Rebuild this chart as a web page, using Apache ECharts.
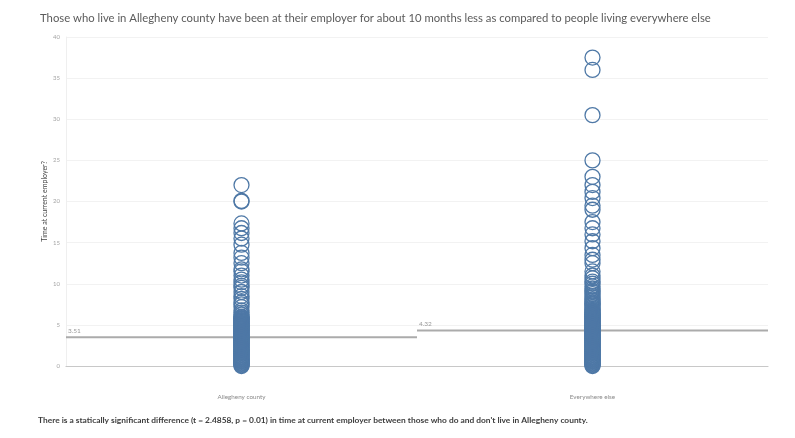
<!DOCTYPE html>
<html>
<head>
<meta charset="utf-8">
<script src="https://cdn.jsdelivr.net/npm/echarts@6/dist/echarts.min.js"></script>
<style>
  html, body { margin: 0; padding: 0; background: #fff; }
  #chart { width: 795px; height: 438px; }
</style>
</head>
<body>
<div id="chart"></div>
<script>
  // categories on the x axis
  var groups = ['Allegheny county', 'Everywhere else'];

  // years at current employer (monthly steps near the bottom)
  var alleghenyValues = [
    22, 20, 20.08, 17.33, 16.75, 16.17, 15.5, 14.75, 13.75, 13.17, 12.5, 11.75,
    11.5, 11, 10.5, 10.17, 9.75, 9.5, 9, 8.5, 8.17, 7.75, 7.5, 7.17, 6.75, 6.5,
    6.25, 6, 5.92, 5.83, 5.75, 5.67, 5.58, 5.5, 5.42, 5.33, 5.25, 5.17, 5.08, 5,
    4.92, 4.83, 4.75, 4.67, 4.58, 4.5, 4.42, 4.33, 4.25, 4.17, 4.08, 4,
    3.92, 3.83, 3.75, 3.67, 3.58, 3.5, 3.42, 3.33, 3.25, 3.17, 3.08, 3,
    2.92, 2.83, 2.75, 2.67, 2.58, 2.5, 2.42, 2.33, 2.25, 2.17, 2.08, 2,
    1.92, 1.83, 1.75, 1.67, 1.58, 1.5, 1.42, 1.33, 1.25, 1.17, 1.08, 1,
    0.92, 0.83, 0.75, 0.67, 0.58, 0.5, 0.42, 0.33, 0.25, 0.17, 0.08, 0
  ];
  var elsewhereValues = [
    37.5, 36, 30.5, 25, 23, 22, 21.17, 20.42, 19.5, 19, 17.5, 16.75, 16, 15.17,
    14.33, 13.5, 12.92, 12.5, 11.5, 11, 10.67, 10.25, 10, 9.67, 9.42, 9.17, 9,
    8.75, 8.5, 8.33, 8.08, 7.92, 7.75, 7.58, 7.5, 7.33, 7.17, 7, 6.83, 6.75,
    6.58, 6.5, 6.42, 6.33, 6.25, 6.17, 6.08, 6, 5.92, 5.83, 5.75, 5.67, 5.58,
    5.5, 5.42, 5.33, 5.25, 5.17, 5.08, 5, 4.92, 4.83, 4.75, 4.67, 4.58, 4.5,
    4.42, 4.33, 4.25, 4.17, 4.08, 4, 3.92, 3.83, 3.75, 3.67, 3.58, 3.5, 3.42,
    3.33, 3.25, 3.17, 3.08, 3, 2.92, 2.83, 2.75, 2.67, 2.58, 2.5, 2.42, 2.33,
    2.25, 2.17, 2.08, 2, 1.92, 1.83, 1.75, 1.67, 1.58, 1.5, 1.42, 1.33, 1.25,
    1.17, 1.08, 1, 0.92, 0.83, 0.75, 0.67, 0.58, 0.5, 0.42, 0.33, 0.25, 0.17,
    0.08, 0
  ];
  var groupValues = [alleghenyValues, elsewhereValues];

  // group averages drawn as reference lines
  var groupMeans = [3.51, 4.32];

  var titleText = 'Those who live in Allegheny county have been at their employer for about 10 months less as compared to people living everywhere else';
  var noteText = "There is a statically significant difference (t = 2.4858, p = 0.01) in time at current employer between those who do and don't live in Allegheny county.";

  var chart = echarts.init(document.getElementById('chart'));

  var series = [];
  groups.forEach(function (g, i) {
    series.push({
      name: g,
      type: 'scatter',
      symbol: 'circle',
      symbolSize: 15,
      clip: false,
      itemStyle: {
        color: 'rgba(255,255,255,0)',
        borderColor: '#4e78a6',
        borderWidth: 1.3,
        opacity: 1
      },
      data: groupValues[i].map(function (v) { return [g, v]; })
    });
  });
  groupMeans.forEach(function (m, i) {
    series.push({
      name: 'mean ' + groups[i],
      type: 'line',
      xAxisIndex: 1,
      symbol: 'circle',
      symbolSize: 0,
      silent: true,
      lineStyle: { color: '#ababab', width: 2 },
      data: [
        { value: [i, m], label: { show: true, formatter: String(m), position: [2, -10], color: '#999', fontSize: 6.5, fontFamily: 'Lato' } },
        [i + 1, m]
      ],
      z: 1
    });
  });

  var option = {
    animation: false,
    textStyle: { fontFamily: 'Lato' },
    title: [{
      text: titleText,
      left: 40,
      top: 13,
      padding: 0,
      textStyle: { fontSize: 11.3, fontWeight: 'normal', color: '#5b5b5b', fontFamily: 'Lato' }
    }, {
      text: noteText,
      left: 38,
      top: 416,
      padding: 0,
      textStyle: { fontSize: 8.4, fontWeight: 'bold', color: '#3c3c3c', fontFamily: 'Lato' }
    }],
    grid: { left: 66, right: 27, top: 37, bottom: 72 },
    xAxis: [{
      type: 'category',
      data: groups,
      position: 'bottom',
      offset: 22,
      axisLine: { lineStyle: { color: '#efefef' } },
      axisTick: { show: false },
      axisLabel: { color: '#8a8a8a', fontSize: 6.3, margin: 6 },
      splitLine: { show: false }
    }, {
      type: 'value',
      min: 0,
      max: 2,
      show: true,
      position: 'bottom',
      axisLine: { show: true, onZero: false, lineStyle: { color: '#c8c8c8' } },
      axisTick: { show: false },
      axisLabel: { show: false },
      splitLine: { show: false }
    }],
    yAxis: {
      type: 'value',
      min: 0,
      max: 40,
      interval: 5,
      name: 'Time at current employer?',
      nameLocation: 'middle',
      nameGap: 18,
      nameMoveOverlap: false,
      nameTextStyle: { fontSize: 7, color: '#444' },
      axisLine: { show: true, lineStyle: { color: '#efefef' } },
      axisTick: { show: false },
      axisLabel: { color: '#a5a5a5', fontSize: 6, margin: 6 },
      splitLine: { lineStyle: { color: '#f2f2f2' } }
    },
    series: series
  };

  chart.setOption(option);
</script>
</body>
</html>
